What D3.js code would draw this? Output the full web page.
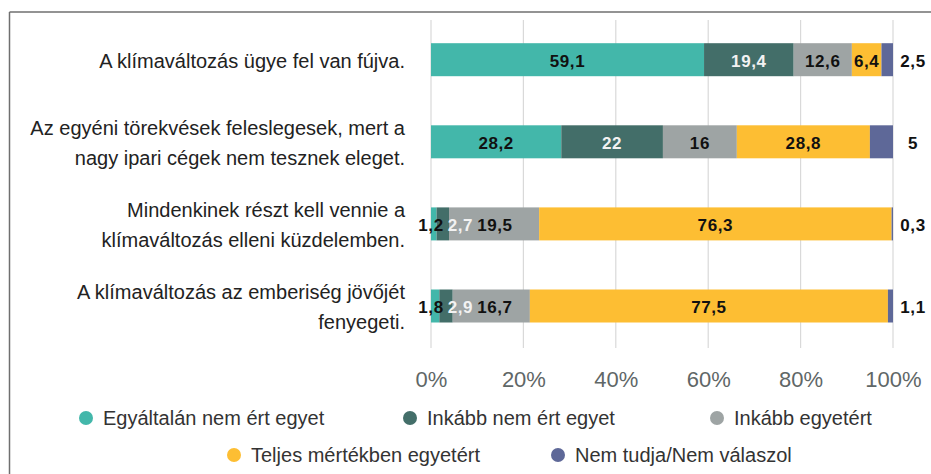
<!DOCTYPE html>
<html>
<head>
<meta charset="utf-8">
<script src="https://cdn.jsdelivr.net/npm/d3@7"></script>
<style>
  html, body { margin: 0; padding: 0; background: #fff; }
  svg { display: block; font-family: "Liberation Sans", Arial, Helvetica, sans-serif; }
</style>
</head>
<body>
<svg id="chart" width="931" height="474"></svg>
<script>
// ---- data ----
const categories = [
  ["A klímaváltozás ügye fel van fújva."],
  ["Az egyéni törekvések feleslegesek, mert a", "nagy ipari cégek nem tesznek eleget."],
  ["Mindenkinek részt kell vennie a", "klímaváltozás elleni küzdelemben."],
  ["A klímaváltozás az emberiség jövőjét", "fenyegeti."]
];
const seriesNames = ["Egyáltalán nem ért egyet", "Inkább nem ért egyet", "Inkább egyetért", "Teljes mértékben egyetért", "Nem tudja/Nem válaszol"];
const egyaltalanNem = [59.1, 28.2, 1.2, 1.8];
const inkabbNem     = [19.4, 22, 2.7, 2.9];
const inkabbIgen    = [12.6, 16, 19.5, 16.7];
const teljesen      = [6.4, 28.8, 76.3, 77.5];
const nemTudja      = [2.5, 5, 0.3, 1.1];
const tickValues = [0, 20, 40, 60, 80, 100];
const tickLabels = ["0%", "20%", "40%", "60%", "80%", "100%"];

const seriesValues = [egyaltalanNem, inkabbNem, inkabbIgen, teljesen, nemTudja];
const colors = ["#43b7aa", "#436e69", "#9ea4a4", "#fdbe33", "#5e6898"];
const labelColors = ["#111", "#f2f2f2", "#111", "#111", "#111"];

// ---- build ----
const svg = d3.select("#chart");
const catKeys = categories.map((c, i) => i);
const x = d3.scaleLinear().domain([0, 100]).range([431, 893]);
const y = d3.scalePoint().domain(catKeys).range([59.7, 306]);
const barH = 33;

// frame
svg.append("line").attr("x1", 9.5).attr("x2", 931).attr("y1", 12).attr("y2", 12)
  .attr("stroke", "#6f6f6f").attr("stroke-width", 1.5);
svg.append("line").attr("x1", 9.5).attr("x2", 9.5).attr("y1", 12).attr("y2", 474)
  .attr("stroke", "#6f6f6f").attr("stroke-width", 1.5);

// grid + axis
const axis = d3.axisBottom(x).tickValues(tickValues)
  .tickFormat((d, i) => tickLabels[i]).tickSize(0).tickPadding(0);
const ax = svg.append("g").attr("transform", "translate(0,387)").call(axis);
ax.select(".domain").remove();
ax.selectAll("text").attr("font-size", 22).attr("fill", "#5f6767")
  .attr("dy", 0).attr("y", 0).style("font-family", "'Liberation Sans', Arial, sans-serif");

svg.append("g").selectAll("line").data(tickValues).join("line")
  .attr("x1", d => x(d)).attr("x2", d => x(d))
  .attr("y1", 20).attr("y2", 348)
  .attr("stroke", "#d9d9d9").attr("stroke-width", 1.2);

// stacked data
const stackData = catKeys.map(i => {
  const o = { key: i };
  seriesValues.forEach((s, k) => o["s" + k] = s[i]);
  return o;
});
const stack = d3.stack().keys(seriesValues.map((s, k) => "s" + k));
const layers = stack(stackData);

const gBars = svg.append("g");
layers.forEach((layer, k) => {
  gBars.selectAll(null).data(layer).join("rect")
    .attr("x", d => x(d[0]))
    .attr("width", d => x(d[1]) - x(d[0]))
    .attr("y", d => y(d.data.key) - barH / 2)
    .attr("height", barH)
    .attr("fill", colors[k]);
});

// value labels
const labelFont = 17;
const gLab = svg.append("g").attr("font-size", labelFont).attr("font-weight", "bold")
  .attr("letter-spacing", "0.6px");
const fmt = v => String(v).replace(".", ",");
catKeys.forEach(i => {
  let prevRight = -Infinity;
  for (let k = 0; k < 4; k++) {
    const seg = layers[k][i];
    const t = gLab.append("text").text(fmt(seriesValues[k][i]))
      .attr("fill", labelColors[k]).attr("text-anchor", "middle")
      .attr("y", y(i)).attr("dy", "0.42em");
    const w = t.node().getComputedTextLength();
    let cx = (x(seg[0]) + x(seg[1])) / 2;
    if (k === 0 && (x(seg[1]) - x(seg[0])) < w) cx = x(0);
    if (cx - w / 2 < prevRight + 4) cx = prevRight + 4 + w / 2;
    t.attr("x", cx);
    prevRight = cx + w / 2;
  }
  gLab.append("text").text(fmt(seriesValues[4][i]))
    .attr("fill", "#111").attr("text-anchor", "middle")
    .attr("x", x(100) + 20).attr("y", y(i)).attr("dy", "0.42em");
});

// category labels
const gCat = svg.append("g").attr("font-size", 20).attr("fill", "#222").attr("text-anchor", "end");
categories.forEach((lines, i) => {
  lines.forEach((ln, j) => {
    gCat.append("text").text(ln)
      .attr("x", 405)
      .attr("y", y(i) + (j - (lines.length - 1) / 2) * 30 + 1)
      .attr("dy", "0.35em");
  });
});

// legend
const legendPos = [[86, 418], [410, 418], [717, 418], [234, 455], [558, 455]];
const gLeg = svg.append("g").attr("font-size", 20).attr("fill", "#333");
seriesNames.forEach((name, k) => {
  const [lx, ly] = legendPos[k];
  gLeg.append("circle").attr("cx", lx).attr("cy", ly).attr("r", 7).attr("fill", colors[k]);
  gLeg.append("text").text(name).attr("x", lx + 17).attr("y", ly).attr("dy", "0.35em");
});
</script>
</body>
</html>
